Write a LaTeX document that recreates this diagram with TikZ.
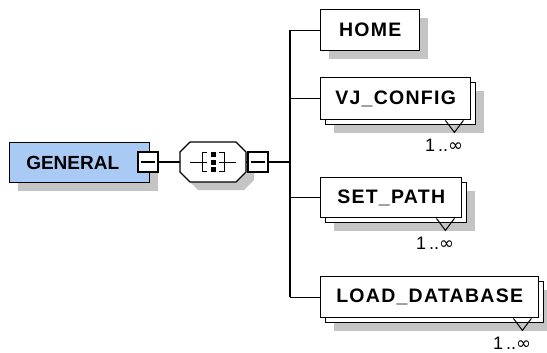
\documentclass[tikz,border=0pt]{standalone}
\usepackage{fontspec}
\setmainfont{Liberation Sans}
\newfontfamily\elemfamily[LetterSpace=6.5]{Liberation Sans}
\newfontfamily\symfamily{DejaVu Sans}
\usetikzlibrary{shadows,calc}

\definecolor{genblue}{RGB}{170,202,246}
\definecolor{shadowgray}{RGB}{196,196,196}

\newcommand{\elemfont}{\elemfamily\bfseries\fontsize{19.5}{19.5}\selectfont}
\newcommand{\rootfont}{\bfseries\fontsize{19}{19}\selectfont}
\newcommand{\multfont}{\fontsize{18}{18}\selectfont}
\newcommand{\many}{1\kern3pt..{\symfamily ∞}}

\tikzset{
  elem/.style={draw, line width=1.4pt, fill=white, font=\elemfont,
    minimum height=41pt, inner sep=0pt, anchor=north west},
  single/.style={elem, drop shadow={shadow xshift=8pt, shadow yshift=-8pt,
    fill=shadowgray, opacity=1}},
  multi/.style={elem, drop shadow={shadow xshift=13pt, shadow yshift=-13pt,
    fill=shadowgray, opacity=1},
    copy shadow={shadow xshift=5pt, shadow yshift=-5pt}},
  minusbox/.style={draw, line width=1.1pt, fill=white, minimum size=20pt,
    inner sep=0pt,
    path picture={\draw[line width=1.1pt]
      ([xshift=3pt]path picture bounding box.west) --
      ([xshift=-3pt]path picture bounding box.east);}},
  conn/.style={line width=1.2pt},
  tick/.style={line width=1pt},
  mult/.style={font=\multfont, anchor=base east, inner sep=0pt},
}

\begin{document}
\begin{tikzpicture}[x=1pt, y=-1pt]
\useasboundingbox[fill=white] (0,0) rectangle (547,353);

% root element
\node[single, fill=genblue, font=\rootfont, minimum width=140pt, minimum height=40pt]
  (gen) at (9,142) {GENERAL\hspace*{14pt}};
\node[minusbox] (gminus) at (148,162) {};

% sequence compositor: an octagon with its shadow, and the sequence icon
\node[minimum width=66pt, minimum height=40pt, inner sep=0pt] (seq) at (213,162) {};
\begin{scope}[shift={(seq.center)}]
  \fill[shadowgray, shift={(8,8)}] (-23,-20) -- (23,-20) -- (33,-10) -- (33,10)
    -- (23,20) -- (-23,20) -- (-33,10) -- (-33,-10) -- cycle;
  \filldraw[fill=white, line width=1.2pt] (-23,-20) -- (23,-20) -- (33,-10) -- (33,10)
    -- (23,20) -- (-23,20) -- (-33,10) -- (-33,-10) -- cycle;
  \draw[tick] (-23,0) -- (-6,0);
  \draw[tick] (6,0) -- (23,0);
  \draw[tick] (-6,-9) -- (-11,-9) -- (-11,9) -- (-6,9);
  \draw[tick] (6,-9) -- (11,-9) -- (11,9) -- (6,9);
  \foreach \dy in {-7,0,7}
    \fill (-2.5,\dy-2.5) rectangle (2.5,\dy+2.5);
\end{scope}
\node[minusbox] (sminus) at (258,162) {};

% child elements
\node[single, minimum width=99pt] (home) at (320,9) {HOME};
\node[multi, minimum width=150pt, minimum height=42pt] (vj) at (320,77) {VJ\_CONFIG};
\node[multi, minimum width=141pt, minimum height=40pt] (setp) at (320,177) {SET\_PATH};
\node[multi, minimum width=218pt] (load) at (320,276) {LOAD\_DATABASE};

% multiplicity marks
\foreach \n in {vj,setp,load}{
  \draw[tick] ([xshift=-26pt]\n.south east) -- ([xshift=-17pt,yshift=-12pt]\n.south east)
    -- ([xshift=-8pt]\n.south east);
  \node[mult] (\n mult) at ([xshift=-8pt,yshift=-31pt]\n.south east) {\many};
}

% connectors
\coordinate (bus) at (290,162);
\draw[conn] (gminus.east) -- (seq.west);
\draw[conn] (seq.east) -- (sminus.west);
\draw[conn] (sminus.east) -- (bus);
\draw[conn] (bus |- home.west) -- (bus |- load.west);
\foreach \n in {home,vj,setp,load}
  \draw[conn] (bus |- \n.west) -- (\n.west);
\end{tikzpicture}
\end{document}
